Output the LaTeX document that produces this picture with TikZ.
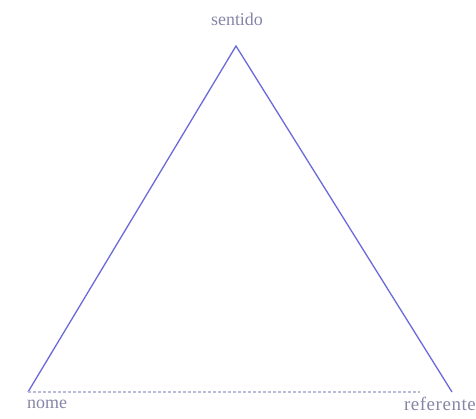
\documentclass[tikz,border=0pt]{standalone}
\usepackage{fontspec}
\setmainfont{Liberation Serif}
\definecolor{edge}{HTML}{6A6AD8}
\definecolor{lbl}{HTML}{8585A8}
\definecolor{base}{HTML}{B8BCD8}
\begin{document}
\begin{tikzpicture}[x=1bp,y=-1bp,
  lab/.style={text=lbl,font=\fontsize{18}{20}\selectfont,inner sep=0pt},
  side/.style={draw=edge,line width=1.3bp},
  baseline/.style={draw=base,line width=1.2bp,dash pattern=on 3bp off 2bp}]
\useasboundingbox (0,0) rectangle (476,418);
\coordinate (top) at (236,46);
\coordinate (bl) at (28,392);
\coordinate (br) at (452,392);
\coordinate (bend) at (420,392);
\node[lab] (sentido) at (237,19) {sentido};
\node[lab,anchor=west] (nome) at (27,404) {nome};
\node[lab,anchor=east,font=\fontsize{19}{21}\selectfont] (referente) at (476,404) {\addfontfeature{LetterSpace=3}referente};
\draw[side] (bl) -- (top) -- (br);
\draw[baseline] (bl) -- (bend);
\end{tikzpicture}
\end{document}
